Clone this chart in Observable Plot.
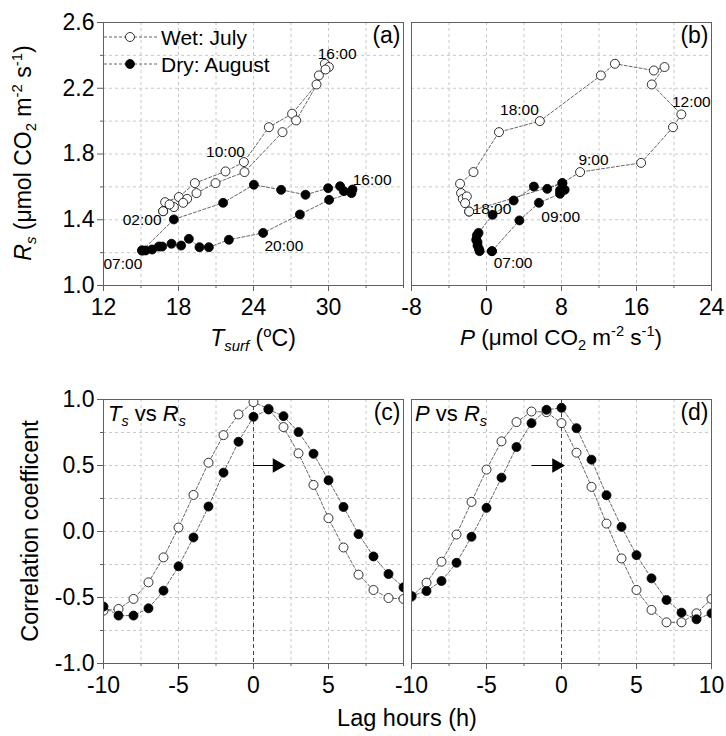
<!DOCTYPE html>
<html><head><meta charset="utf-8">
<script src="https://cdn.jsdelivr.net/npm/d3@7"></script>
<script src="https://cdn.jsdelivr.net/npm/@observablehq/plot@0.6"></script>
<style>
body{margin:0;background:#fff;font-family:"Liberation Sans",Arial,sans-serif;}
#wrap{position:relative;width:726px;height:736px;overflow:hidden;}
.p{position:absolute;}
.t{position:absolute;white-space:nowrap;color:#000;font-size:21px;line-height:1;}
.t sub,.t sup{font-size:65%;line-height:0;}
.rot{transform:translate(-50%,-50%) rotate(-90deg);}
.ctr{transform:translate(-50%,-50%);}
</style></head><body><div id="wrap"></div>
<script>
// ---- Panel (a): Rs vs Tsurf ----
const aWetT = [16.77,16.93,18.03,19.31,21.76,23.23,25.23,27.09,29.04,29.23,29.71,30.03,29.76,27.41,26.32,23.28,20.96,19.44,18.69,18.37,17.63,17.28,16.77];
const aWetR = [1.452,1.507,1.538,1.623,1.694,1.751,1.963,2.045,2.223,2.278,2.349,2.329,2.314,2.004,1.933,1.690,1.623,1.562,1.527,1.503,1.477,1.493,1.452];
const aDryT = [15.09,17.63,21.57,24.03,26.21,28.16,29.97,30.93,31.23,31.92,31.84,30.05,27.71,24.77,22.03,20.43,19.68,18.83,18.21,17.44,16.69,16.43,15.89,15.36,15.09];
const aDryR = [1.213,1.402,1.503,1.613,1.582,1.552,1.592,1.604,1.574,1.584,1.562,1.521,1.432,1.320,1.278,1.233,1.233,1.284,1.243,1.254,1.237,1.237,1.219,1.213,1.213];
const aLabText = ["16:00","10:00","02:00","07:00","20:00","16:00"];
const aLabT = [30.69,21.76,15.09,13.55,26.43,33.49];
const aLabR = [2.41,1.81,1.396,1.132,1.243,1.639];
// ---- Panel (b): Rs vs P ----
const bWetP = [-1.85,8.09,9.98,16.49,19.89,20.78,17.63,18.99,17.85,13.70,12.20,5.69,1.33,-1.39,-2.82,-2.71,-2.53,-2.10,-2.28,-1.85];
const bWetR = [1.450,1.623,1.690,1.746,1.963,2.041,2.223,2.329,2.308,2.349,2.278,2.000,1.933,1.690,1.619,1.562,1.527,1.542,1.501,1.450];
const bDryP = [0.58,3.51,5.59,7.84,7.84,8.34,8.09,6.48,5.05,2.90,0.65,-0.85,-1.03,-1.10,-0.96,-0.96,-0.81,-0.74,0.58];
const bDryR = [1.209,1.396,1.503,1.558,1.578,1.582,1.623,1.588,1.602,1.517,1.430,1.320,1.304,1.278,1.264,1.243,1.223,1.209,1.209];
const bLabText = ["18:00","12:00","9:00","18:00","09:00","07:00"];
const bLabP = [3.51,21.85,11.41,0.58,7.91,2.83];
const bLabR = [2.065,2.116,1.765,1.467,1.416,1.136];
// ---- Panels (c),(d): correlation vs lag ----
const lags = [-10,-9,-8,-7,-6,-5,-4,-3,-2,-1,0,1,2,3,4,5,6,7,8,9,10];
const cWet = [-0.600,-0.587,-0.511,-0.385,-0.196,0.030,0.277,0.521,0.730,0.887,0.980,0.930,0.791,0.592,0.353,0.101,-0.121,-0.327,-0.443,-0.504,-0.511];
const cDry = [-0.569,-0.637,-0.637,-0.582,-0.448,-0.264,-0.045,0.189,0.446,0.680,0.869,0.924,0.874,0.753,0.589,0.388,0.186,-0.020,-0.189,-0.322,-0.423];
const dWet = [-0.494,-0.388,-0.229,-0.023,0.224,0.469,0.683,0.829,0.909,0.904,0.821,0.597,0.338,0.060,-0.204,-0.443,-0.594,-0.688,-0.688,-0.620,-0.511];
const dDry = [-0.489,-0.451,-0.375,-0.237,-0.040,0.179,0.408,0.640,0.821,0.922,0.937,0.783,0.544,0.275,0.035,-0.179,-0.355,-0.519,-0.615,-0.665,-0.620];
const cArrow = [{x1:0, x2:1.9, y:0.5}];
const dArrow = [{x1:-2.0, x2:0, y:0.5}];
// ---- ticks ----
const aTicksX = [12,18,24,30], aMinorX = [15,21,27,33,36];
const bTicksX = [-8,0,8,16,24], bMinorX = [-4,4,12,20];
const topTicksY = [1.0,1.4,1.8,2.2,2.6], topMinorY = [1.2,1.6,2.0,2.4];
const aGridX = [15,18,21,24,27,30,33], bGridX = [-4,0,4,8,12,16,20];
const topGridY = [1.2,1.4,1.6,1.8,2.0,2.2,2.4];
const cTicksX = [-10,-5,0,5], cMinorX = [-7.5,-2.5,2.5,7.5,10];
const dTicksX = [-10,-5,0,5,10], dMinorX = [-7.5,-2.5,2.5,7.5];
const corTicksY = [-1,-0.5,0,0.5,1], corMinorY = [-0.75,-0.25,0.25,0.75];
const lagGridX = [-7.5,-5,-2.5,0,2.5,5,7.5];
const corGridY = [-0.75,-0.5,-0.25,0,0.25,0.5,0.75];

const zip = (xs, ys) => xs.map((x, i) => ({x, y: ys[i]}));
const wrap = document.getElementById("wrap");
const AX = "#606060";
const TICKFONT = 23;
const gridStyle = {stroke:"#c8c8c8", strokeOpacity:1, strokeDasharray:"3,3"};
const lineStyle = {x:"x", y:"y", stroke:"#555", strokeWidth:0.9, strokeDasharray:"3,2"};
const openDot = {x:"x", y:"y", r:4.5, fill:"white", stroke:"black", strokeWidth:0.8, clip:true};
const fullDot = {x:"x", y:"y", r:4.5, fill:"black", stroke:"black", strokeWidth:0.8, clip:true};

function place(el, left, top) {
  const d = document.createElement("div");
  d.className = "p"; d.style.left = left + "px"; d.style.top = top + "px";
  d.appendChild(el); wrap.appendChild(d);
}
function xAxes(major, minor, fmt) {
  return [
    Plot.axisX(major, {tickSize:6, tickPadding:7, tickFormat:fmt, stroke:AX, label:null, fontSize:TICKFONT}),
    Plot.axisX(minor, {tickSize:3, tickFormat:() => "", stroke:AX, label:null})
  ];
}
function yAxes(major, minor, fmt) {
  return [
    Plot.axisY(major, {tickSize:6, tickPadding:3, tickFormat:fmt, stroke:AX, label:null, fontSize:TICKFONT}),
    Plot.axisY(minor, {tickSize:3, tickFormat:() => "", stroke:AX, label:null})
  ];
}
const baseStyle = {fontFamily:"'Liberation Sans', Arial, sans-serif", fontSize:"21px", color:"#000", background:"transparent", overflow:"visible"};

// (a)
place(Plot.plot({
  width:410, height:320, marginLeft:103, marginRight:7, marginTop:22, marginBottom:35,
  style:baseStyle,
  x:{domain:[12,36]}, y:{domain:[1,2.6]},
  marks:[
    Plot.gridX(aGridX, gridStyle), Plot.gridY(topGridY, gridStyle),
    ...xAxes(aTicksX, aMinorX, d => String(d)),
    ...yAxes(topTicksY, topMinorY, d => d.toFixed(1)),
    Plot.line(zip(aWetT, aWetR), lineStyle),
    Plot.line(zip(aDryT, aDryR), lineStyle),
    Plot.dot(zip(aWetT, aWetR), openDot),
    Plot.dot(zip(aDryT, aDryR), fullDot),
    Plot.text(aLabText, {x:(d,i) => aLabT[i], y:(d,i) => aLabR[i], text:d => d, fontSize:15.5, fill:"black"}),
    Plot.text(["(a)"], {frameAnchor:"top-right", dx:-3, dy:4, fontSize:23, fill:"black"}),
    Plot.frame({stroke:AX})
  ]
}), 0, 0);

// (b)
place(Plot.plot({
  width:320, height:320, marginLeft:8, marginRight:12, marginTop:22, marginBottom:35,
  style:baseStyle,
  x:{domain:[-8,24]}, y:{domain:[1,2.6], axis:null},
  marks:[
    Plot.gridX(bGridX, gridStyle), Plot.gridY(topGridY, gridStyle),
    ...xAxes(bTicksX, bMinorX, d => String(d)),
    Plot.line(zip(bWetP, bWetR), lineStyle),
    Plot.line(zip(bDryP, bDryR), lineStyle),
    Plot.dot(zip(bWetP, bWetR), openDot),
    Plot.dot(zip(bDryP, bDryR), fullDot),
    Plot.text(bLabText, {x:(d,i) => bLabP[i], y:(d,i) => bLabR[i], text:d => d, fontSize:15.5, fill:"black"}),
    Plot.text(["(b)"], {frameAnchor:"top-right", dx:-3, dy:4, fontSize:23, fill:"black"}),
    Plot.frame({stroke:AX})
  ]
}), 403, 0);

function lagPanel(wet, dry, arrow, letter, ticks, minor, withY) {
  const marks = [
    Plot.gridX(lagGridX, gridStyle), Plot.gridY(corGridY, gridStyle),
    ...xAxes(ticks, minor, d => String(d)),
    Plot.ruleX([0], {stroke:"#444", strokeWidth:1, strokeDasharray:"4,3"}),
    Plot.line(zip(lags, wet), lineStyle),
    Plot.line(zip(lags, dry), lineStyle),
    Plot.dot(zip(lags, wet), openDot),
    Plot.dot(zip(lags, dry), fullDot),
    Plot.link(arrow, {x1:"x1", x2:"x2", y1:"y", y2:"y", stroke:"black", strokeWidth:1}),
    Plot.dot(arrow, {x:"x2", y:"y", symbol:"triangle", rotate:90, r:4.5, dx:-5, fill:"black", stroke:"black"}),
    Plot.text([letter], {frameAnchor:"top-right", dx:-3, dy:4, fontSize:23, fill:"black"}),
    Plot.frame({stroke:AX})
  ];
  if (withY) marks.splice(3, 0, ...yAxes(corTicksY, corMinorY, d => d.toFixed(1)));
  return marks;
}
// (c)
place(Plot.plot({
  width:410, height:326, marginLeft:103, marginRight:7, marginTop:22, marginBottom:40,
  style:baseStyle,
  x:{domain:[-10,10]}, y:{domain:[-1,1]},
  marks: lagPanel(cWet, cDry, cArrow, "(c)", cTicksX, cMinorX, true)
}), 0, 377);
// (d)
place(Plot.plot({
  width:320, height:326, marginLeft:8, marginRight:12, marginTop:22, marginBottom:40,
  style:baseStyle,
  x:{domain:[-10,10]}, y:{domain:[-1,1], axis:null},
  marks: lagPanel(dWet, dDry, dArrow, "(d)", dTicksX, dMinorX, false)
}), 403, 377);

// ---- text overlays ----
function txt(html, left, top, cls, size) {
  const d = document.createElement("div");
  d.className = "t " + (cls || "");
  d.style.left = left + "px"; d.style.top = top + "px";
  if (size) d.style.fontSize = size + "px";
  d.innerHTML = html; wrap.appendChild(d);
}
txt("<i>R</i><sub><i>s</i></sub> (μmol CO<sub>2</sub> m<sup>-2</sup> s<sup>-1</sup>)", 23, 153, "rot", 23);
txt("<i>T</i><sub><i>surf</i></sub> (<sup>o</sup>C)", 253, 338, "ctr", 23);
txt("<i>P</i> (μmol CO<sub>2</sub> m<sup>-2</sup> s<sup>-1</sup>)", 561, 338, "ctr", 22.5);
txt("Correlation coefficent", 31, 531, "rot", 23.5);
txt("Lag hours (h)", 407, 719, "ctr", 23.5);
txt("<i>T</i><sub><i>s</i></sub> vs <i>R</i><sub><i>s</i></sub>", 108, 403, "", 22);
txt("<i>P</i> vs <i>R</i><sub><i>s</i></sub>", 415, 403, "", 22);

// legend
const legendItems = ["Wet: July", "Dry: August"];
const legendFill = ["white", "black"];
legendItems.forEach((name, i) => {
  const y = 37 + i * 26.5;
  const s = document.createElementNS("http://www.w3.org/2000/svg", "svg");
  s.setAttribute("width", 60); s.setAttribute("height", 14);
  s.style.position = "absolute"; s.style.left = "102px"; s.style.top = (y - 7) + "px";
  s.innerHTML = `<line x1="2" x2="56" y1="7" y2="7" stroke="#555" stroke-width="0.9" stroke-dasharray="3,2"/>` +
    `<circle cx="28" cy="7" r="4.5" fill="${legendFill[i]}" stroke="black" stroke-width="0.8"/>`;
  wrap.appendChild(s);
  txt(name, 161, y - 10, "", 21);
});
</script></body></html>
